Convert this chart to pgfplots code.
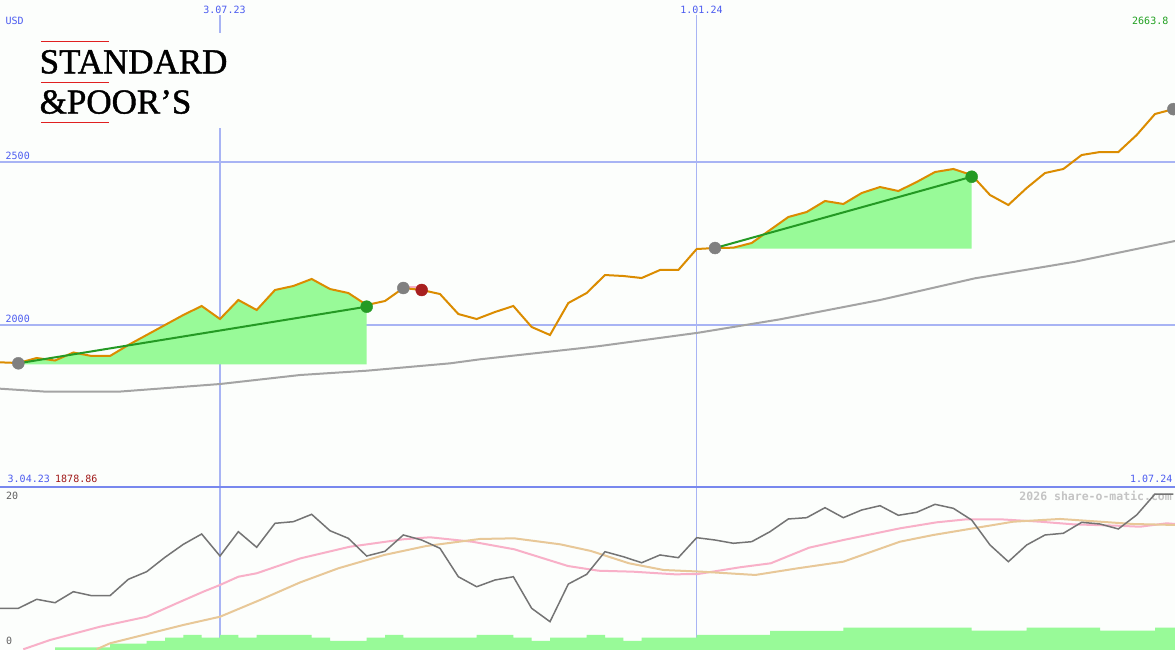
\documentclass[border=0pt]{standalone}
\usepackage{pgfplots}
\pgfplotsset{compat=1.18}
\usepackage{fontspec}
\setmainfont{DejaVu Sans Mono}
\newfontfamily\logofont[FakeBold=1.2]{Liberation Serif}
\definecolor{bg}{HTML}{FCFEFC}
\definecolor{gridblue}{HTML}{A8B4F4}
\definecolor{sepblue}{HTML}{7888EE}
\definecolor{lblblue}{HTML}{4C5CF0}
\definecolor{orangeln}{HTML}{DB8C00}
\definecolor{fillgreen}{HTML}{98FA98}
\definecolor{trendgreen}{HTML}{249A24}
\definecolor{dotgray}{HTML}{808080}
\definecolor{dotred}{HTML}{A82020}
\definecolor{magray}{HTML}{A4A4A4}
\definecolor{oscgray}{HTML}{747474}
\definecolor{oscpink}{HTML}{F8B0C8}
\definecolor{osctan}{HTML}{E8C898}
\definecolor{wmgray}{HTML}{C4C4C4}
\definecolor{logored}{HTML}{E02020}
\definecolor{valred}{HTML}{A01818}
\definecolor{valgreen}{HTML}{20A020}
\definecolor{lblgray}{HTML}{606060}

\pgfplotstableread{
i v
0 1884
1 1881.9
2 1897.3
3 1889.6
4 1914.3
5 1903.5
6 1903.5
7 1937.4
8 1968.2
9 1999
10 2029.8
11 2057.5
12 2017.4
13 2076
14 2045.2
15 2106.8
16 2119.1
17 2140.7
18 2109.8
19 2097.5
20 2060.6
21 2072.9
22 2112.9
23 2106.8
24 2094.4
25 2032.8
26 2017.4
27 2039
28 2057.5
29 1992.8
30 1968.2
31 2066.7
32 2097.5
33 2152.9
34 2149.9
35 2143.7
36 2168.4
37 2168.4
38 2233
39 2236.1
40 2237.1
41 2251.5
42 2291.6
43 2331.6
44 2347
45 2380.9
46 2371.7
47 2405.5
48 2424
49 2411.7
50 2439.4
51 2470.2
52 2479.5
53 2461
54 2399.4
55 2368.6
56 2420.9
57 2467.1
58 2479.5
59 2522.6
60 2531.8
61 2531.8
62 2584.2
63 2648.9
64 2663.8
}\price

\pgfplotstableread{
i v
0 5.21
1 5.21
2 6.34
3 5.91
4 7.29
5 6.79
6 6.79
7 8.84
8 9.79
9 11.59
10 13.21
11 14.5
12 11.75
13 14.79
14 12.84
15 15.84
16 16.04
17 16.96
18 14.91
19 13.96
20 11.75
21 12.34
22 14.38
23 13.75
24 12.71
25 9.16
26 7.91
27 8.75
28 9.16
29 5.21
30 3.54
31 8.25
32 9.46
33 12.29
34 11.66
35 10.91
36 11.88
37 11.54
38 14.04
39 13.75
40 13.34
41 13.54
42 14.79
43 16.38
44 16.54
45 17.79
46 16.54
47 17.5
48 18.04
49 16.84
50 17.21
51 18.21
52 17.71
53 16.25
54 13.13
55 11.04
56 13.13
57 14.38
58 14.59
59 15.96
60 15.75
61 15.13
62 16.88
63 19.5
64 19.5
}\osc

\pgfplotstableread{
i v
3 0.34
4 0.34
5 0.34
6 0.81
7 0.81
8 1.15
9 1.54
10 1.88
11 1.54
12 1.88
13 1.54
14 1.88
15 1.88
16 1.88
17 1.54
18 1.15
19 1.15
20 1.54
21 1.88
22 1.54
23 1.54
24 1.54
25 1.54
26 1.88
27 1.88
28 1.54
29 1.15
30 1.54
31 1.54
32 1.88
33 1.54
34 1.15
35 1.54
36 1.54
37 1.54
38 1.88
39 1.88
40 1.88
41 1.88
42 2.38
43 2.38
44 2.38
45 2.38
46 2.79
47 2.79
48 2.79
49 2.79
50 2.79
51 2.79
52 2.79
53 2.41
54 2.41
55 2.41
56 2.79
57 2.79
58 2.79
59 2.79
60 2.41
61 2.41
62 2.41
63 2.79
64 2.79
64.1 2.79
}\vol

\begin{document}
\begin{tikzpicture}
\useasboundingbox (0,0) rectangle (1175bp,-650bp);
\fill[bg] (0,0) rectangle (1175bp,-650bp);
% vertical date lines
\draw[gridblue, line width=1.5bp] (220bp,-15bp) -- (220bp,-33bp);
\draw[gridblue, line width=1.5bp] (220bp,-128bp) -- (220bp,-650bp);
\draw[gridblue, line width=1.5bp] (696.7bp,-15bp) -- (696.7bp,-650bp);
% logo
\draw[logored, line width=1bp] (41bp,-41bp) -- (109bp,-41bp);
\draw[logored, line width=1bp] (41bp,-82bp) -- (109bp,-82bp);
\draw[logored, line width=1bp] (41bp,-122bp) -- (109bp,-122bp);
\node[anchor=base west, inner sep=0, font=\logofont\fontsize{35bp}{35bp}\selectfont] at (39.5bp,-73.3bp) {STANDARD};
\node[anchor=base west, inner sep=0, font=\logofont\fontsize{35bp}{35bp}\selectfont] at (39.5bp,-113.5bp) {\&POOR’S};
% watermark
\node[anchor=east, inner sep=0, font=\bfseries\fontsize{11.5bp}{13bp}\selectfont, text=wmgray] at (1172bp,-496bp) {2026 share-o-matic.com};

\begin{axis}[at={(0,0)}, anchor=north west, width=1175bp, height=487bp, scale only axis,
  xmin=0, xmax=64.09, ymin=1500, ymax=3000, hide axis, clip=true]
\draw[gridblue, line width=2bp] (axis cs:0,2500) -- (axis cs:64.09,2500);
\draw[gridblue, line width=2bp] (axis cs:0,2000) -- (axis cs:64.09,2000);
\addplot[magray, line width=2bp] coordinates {(0,1802.8) (2.55,1793.5) (6.44,1793.5) (12,1817.2) (16.36,1844.9) (20,1858.2) (24.55,1880.9) (26.18,1893.3) (31.64,1927.2) (32.73,1934.3) (38.09,1975.2) (42.55,2016.5) (48,2076) (53.18,2142.8) (58.64,2193.9) (64.09,2257.7)};
\addplot[fill=fillgreen, draw=none] coordinates {(1,1881.9) (2,1897.3) (3,1889.6) (4,1914.3) (5,1903.5) (6,1903.5) (7,1937.4) (8,1968.2) (9,1999) (10,2029.8) (11,2057.5) (12,2017.4) (13,2076) (14,2045.2) (15,2106.8) (16,2119.1) (17,2140.7) (18,2109.8) (19,2097.5) (20,2060.6) (20,1878) (1,1878)} -- cycle;
\addplot[fill=fillgreen, draw=none] coordinates {(39,2236.1) (40,2237.1) (41,2251.5) (42,2291.6) (43,2331.6) (44,2347) (45,2380.9) (46,2371.7) (47,2405.5) (48,2424) (49,2411.7) (50,2439.4) (51,2470.2) (52,2479.5) (53,2461) (53,2234) (39,2234)} -- cycle;
\addplot[oscpink, line width=2bp] coordinates {(22,2116) (23,2116)};
\addplot[orangeln, line width=2bp] table[x=i, y=v] {\price};
\addplot[trendgreen, line width=2bp] coordinates {(1,1881) (20,2055.4)};
\addplot[trendgreen, line width=2bp] coordinates {(39,2236) (53,2455.7)};
\addplot[only marks, mark=*, mark size=6bp, mark options={fill=dotgray, draw=dotgray}] coordinates {(1,1881) (22,2112.9) (39,2236) (64,2663.8)};
\addplot[only marks, mark=*, mark size=6bp, mark options={fill=trendgreen, draw=trendgreen}] coordinates {(20,2055.4) (53,2455.7)};
\addplot[only marks, mark=*, mark size=6bp, mark options={fill=dotred, draw=dotred}] coordinates {(23,2106.8)};
\end{axis}

\begin{axis}[at={(0,-487bp)}, anchor=north west, width=1175bp, height=163bp, scale only axis,
  xmin=0, xmax=64.09, ymin=0, ymax=20.375, hide axis, clip=true]
\addplot[const plot mark left, fill=fillgreen, draw=none] table[x=i, y=v] {\vol} \closedcycle;
\addplot[oscpink, line width=2bp] coordinates {(1.27,0.09) (2.73,1.25) (5.45,2.91) (8,4.16) (9.64,5.84) (11.09,7.29) (12,8.13) (13,9.16) (14,9.59) (16.36,11.44) (19.08,12.91) (22,13.84) (23.45,14.09) (25.75,13.54) (28.05,12.59) (30.98,10.5) (32.65,9.91) (34.53,9.79) (36.82,9.46) (38.07,9.5) (40.36,10.34) (42.04,10.84) (44.13,12.79) (46,13.75) (49.09,15.21) (51.09,15.96) (52.73,16.34) (54.55,16.34) (56.73,16.04) (58.54,15.71) (60.91,15.54) (62.18,15.41) (63.64,15.84) (64.09,15.75)};
\addplot[osctan, line width=2bp] coordinates {(5.27,0.09) (6,0.84) (8.18,2.09) (10,3.13) (12,4.16) (14.18,6.25) (16.36,8.44) (18.45,10.21) (20.96,11.88) (23.25,13) (26.18,13.88) (28.05,13.96) (30.56,13.21) (32.23,12.38) (34.31,10.84) (36.2,10) (38.28,9.79) (41.2,9.38) (43.5,10.21) (46,11.04) (49.09,13.54) (50.91,14.38) (53.09,15.21) (55.27,16.04) (57.82,16.38) (60,16.04) (61.82,15.75) (64.09,15.63)};
\addplot[oscgray, line width=1.5bp] table[x=i, y=v] {\osc};
\end{axis}

\draw[sepblue, line width=2bp] (0,-487bp) -- (1175bp,-487bp);
% labels
\begin{scope}[every node/.style={inner sep=0, font=\fontsize{10bp}{12bp}\selectfont}]
\node[anchor=west, text=lblblue] at (5.5bp,-21bp) {USD};
\node[text=lblblue] at (224.5bp,-9.5bp) {3.07.23};
\node[text=lblblue] at (701.5bp,-9.5bp) {1.01.24};
\node[anchor=east, text=valgreen] at (1168.5bp,-21bp) {2663.8};
\node[anchor=west, text=lblblue] at (5.5bp,-156bp) {2500};
\node[anchor=west, text=lblblue] at (5.5bp,-319bp) {2000};
\node[anchor=west, text=lblblue] at (7.5bp,-478.5bp) {3.04.23};
\node[anchor=west, text=valred] at (55bp,-478.5bp) {1878.86};
\node[anchor=east, text=lblblue] at (1172.5bp,-478.5bp) {1.07.24};
\node[anchor=west, text=lblgray] at (6bp,-496bp) {20};
\node[anchor=west, text=lblgray] at (6bp,-641bp) {0};
\end{scope}
\end{tikzpicture}
\end{document}
